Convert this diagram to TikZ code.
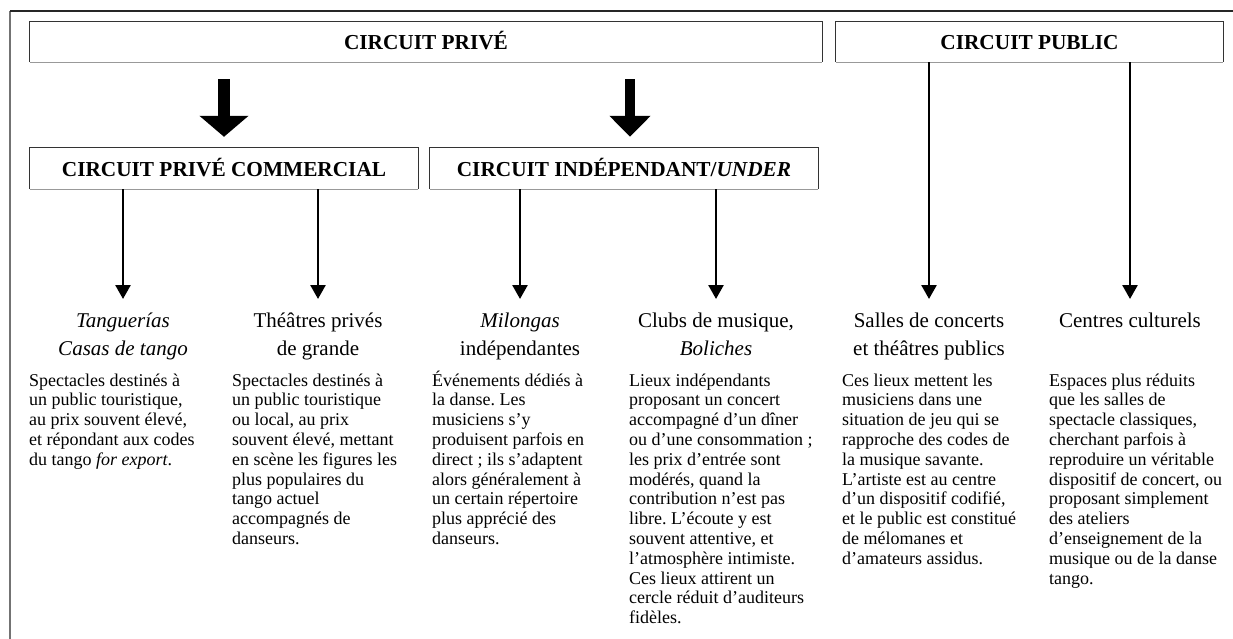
\documentclass[tikz,border=0pt]{standalone}
\usepackage{fontspec}
\setmainfont{Liberation Serif}
\usetikzlibrary{arrows.meta}
\AtBeginDocument{\frenchspacing}
\tikzset{
  hdrbox/.style={draw=none, inner sep=0pt, minimum height=40pt, text height=15pt, text depth=0pt,
    font=\fontsize{21.3}{24}\selectfont\bfseries, text=black},
  boxedge/.style={black!80, line width=1.1pt},
  boxbottom/.style={black!40, line width=1.3pt},
  bigarrow/.style={line width=#1, line cap=butt, -{Triangle[width=4*#1, length=21pt]}},
  thinarrow/.style={line width=2.6pt, line cap=butt, -{Triangle[width=15pt, length=14pt]}},
  venue/.style={anchor=base, align=center, inner sep=0pt, font=\fontsize{21}{28}\selectfont},
  desc/.style={anchor=base west, align=left, inner sep=0pt, font=\fontsize{18}{19.8}\selectfont\frenchspacing},
}
\begin{document}
\begin{tikzpicture}[x=1pt,y=-1pt]
\useasboundingbox (0,0) rectangle (1233,639);
% outer frame (cropped)
\draw[black!55, line width=1.5pt] (10,11) -- (10,645);
\draw[black!85, line width=1.2pt] (10,11) -- (1240,11);

% header boxes
\node[hdrbox, minimum width=792pt] (prive) at (426,42) {CIRCUIT PRIVÉ};
\node[hdrbox, minimum width=387pt] (public) at (1029.5,42) {CIRCUIT PUBLIC};
\node[hdrbox, minimum width=388pt, minimum height=41pt] (comm) at (224,168.5) {CIRCUIT PRIVÉ COMMERCIAL};
\node[hdrbox, minimum width=388pt, minimum height=41pt] (indep) at (624,168.5) {CIRCUIT INDÉPENDANT/\textit{UNDER}};
\foreach \n in {prive,public,comm,indep}{
  \draw[boxbottom] (\n.south west) -- (\n.south east);
  \draw[boxedge] (\n.south west) -- (\n.north west) -- (\n.north east) -- (\n.south east);
}

% big arrows
\draw[bigarrow=12pt, shorten <=17pt, shorten >=11pt] (prive.south -| comm.north) -- (comm.north);
\draw[bigarrow=10pt, shorten <=17pt, shorten >=11pt] ([xshift=6pt]prive.south -| indep.north) -- ([xshift=6pt]indep.north);

% arrow tips
\coordinate (t1) at (123,299);
\coordinate (t2) at (318,299);
\coordinate (t3) at (520,299);
\coordinate (t4) at (716,299);
\coordinate (t5) at (929,299);
\coordinate (t6) at (1130,299);

\draw[thinarrow] (comm.south -| t1) -- (t1);
\draw[thinarrow] (comm.south -| t2) -- (t2);
\draw[thinarrow] (indep.south -| t3) -- (t3);
\draw[thinarrow] (indep.south -| t4) -- (t4);
\draw[thinarrow] (public.south -| t5) -- (t5);
\draw[thinarrow] (public.south -| t6) -- (t6);

% venue titles (anchor = baseline of last line; first baseline at y = 327)
\node[venue] (v1) at (123,355.5) {\textit{Tanguerías}\\\textit{Casas de tango}};
\node[venue] (v2) at (318,355.5) {Théâtres privés\\de grande};
\node[venue] (v3) at (520,355.5) {\textit{Milongas}\\indépendantes};
\node[venue] (v4) at (716,355.5) {Clubs de musique,\\\textit{Boliches}};
\node[venue] (v5) at (929,355.5) {Salles de concerts\\et théâtres publics};
\node[venue] (v6) at (1130,327.5) {Centres culturels};

% descriptions (anchor = baseline of last line; first baseline at y = 386)
\node[desc] (d1) at (29,465.2) {Spectacles destinés à\\un public touristique,\\au prix souvent élevé,\\et répondant aux codes\\du tango \textit{for export}.};
\node[desc] (d2) at (232,544.4) {Spectacles destinés à\\un public touristique\\ou local, au prix\\souvent élevé, mettant\\en scène les figures les\\plus populaires du\\tango actuel\\accompagnés de\\danseurs.};
\node[desc] (d3) at (432,544.4) {Événements dédiés à\\la danse. Les\\musiciens s’y\\produisent parfois en\\direct ; ils s’adaptent\\alors généralement à\\un certain répertoire\\plus apprécié des\\danseurs.};
\node[desc] (d4) at (629,623.6) {Lieux indépendants\\proposant un concert\\accompagné d’un dîner\\ou d’une consommation ;\\les prix d’entrée sont\\modérés, quand la\\contribution n’est pas\\libre. L’écoute y est\\souvent attentive, et\\l’atmosphère intimiste.\\Ces lieux attirent un\\cercle réduit d’auditeurs\\fidèles.};
\node[desc] (d5) at (842,564.2) {Ces lieux mettent les\\musiciens dans une\\situation de jeu qui se\\rapproche des codes de\\la musique savante.\\L’artiste est au centre\\d’un dispositif codifié,\\et le public est constitué\\de mélomanes et\\d’amateurs assidus.};
\node[desc] (d6) at (1049,584) {Espaces plus réduits\\que les salles de\\spectacle classiques,\\cherchant parfois à\\reproduire un véritable\\dispositif de concert, ou\\proposant simplement\\des ateliers\\d’enseignement de la\\musique ou de la danse\\tango.};
\end{tikzpicture}
\end{document}
